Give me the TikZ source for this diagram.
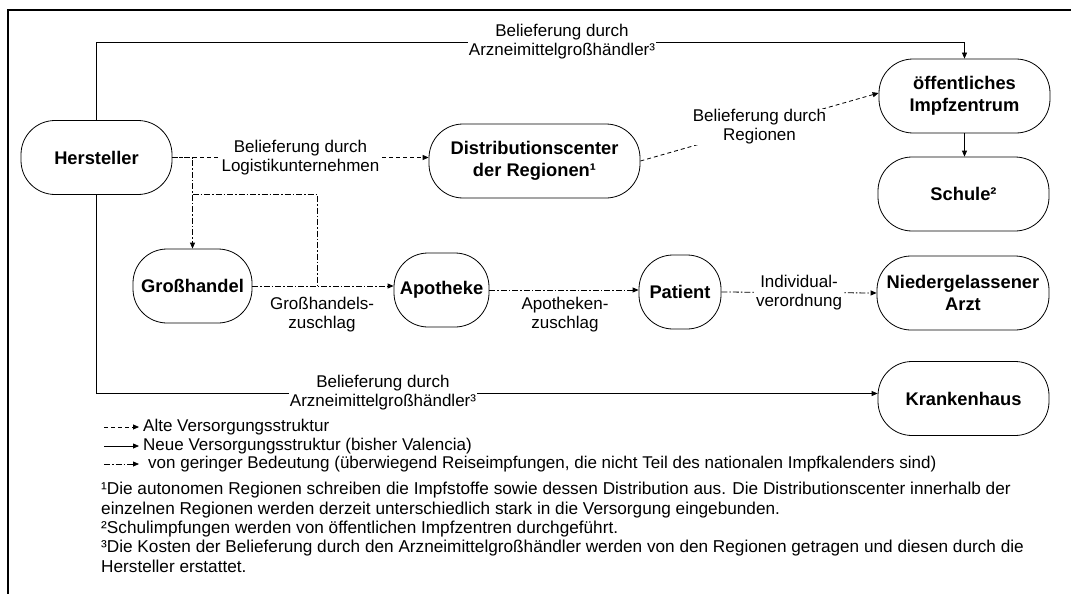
\documentclass[tikz,border=0pt]{standalone}
\usepackage{fontspec}
\setmainfont{Liberation Sans}
\usetikzlibrary{arrows.meta, positioning, calc}
\newcommand{\stellefont}{\fontsize{18.3}{22.5}\selectfont\bfseries}
\newcommand{\lblfont}{\fontsize{17}{19}\selectfont}
\newcommand{\fnfont}{\fontsize{17.2}{19.4}\selectfont}
\tikzset{
  stelle/.style={
    rectangle, rounded corners=34pt, draw, line width=0.8pt,
    align=center, font=\stellefont, inner sep=0pt, minimum height=74pt
  },
  neu/.style={-{Triangle[length=6pt, width=5pt]}, line width=0.8pt},
  alt/.style={neu, dash pattern=on 4pt off 3pt},
  gering/.style={neu, dash pattern=on 6pt off 2pt on 1.5pt off 2pt},
  lbl/.style={font=\lblfont, fill=white, inner sep=1pt, align=center},
  legtext/.style={font=\lblfont, inner sep=0pt, anchor=west},
  fn/.style={font=\fnfont, inner sep=0pt, align=left, anchor=north west},
}

\begin{document}
\begin{tikzpicture}[x=1pt, y=-1pt]

  \useasboundingbox (0,0) rectangle (1071,594);
  \draw[line width=2pt] (7.5,594) -- (7.5,10) -- (1071,10);

  % Stellen der Versorgung
  \node[stelle, minimum width=151pt] (hst) at (96.5,157.5) {Hersteller};
  \node[stelle, minimum width=211pt] (dist) at (534.5,161) {Distributionscenter\\der Regionen¹};
  \node[stelle, minimum width=171pt] (impf) at (964.5,96) {öffentliches\\Impfzentrum};
  \node[stelle, minimum width=171pt] (schule) at (963.5,194) {Schule²};
  \node[stelle, minimum width=119pt] (gh) at (192.5,286) {Großhandel};
  \node[stelle, minimum width=95pt] (apo) at (441.5,290) {Apotheke};
  \node[stelle, minimum width=82pt] (pat) at (680,292) {Patient};
  \node[stelle, minimum width=172pt] (arzt) at (963,293) {Niedergelassener\\Arzt};
  \node[stelle, minimum width=171pt] (kh) at (963.5,398.5) {Krankenhaus};

  % neue Struktur
  \draw[neu] (hst.north) |- ([yshift=16pt]impf.north) -- (impf.north);
  \node[lbl] (oben) at (562,42) {Belieferung durch\\Arzneimittelgroßhändler³};
  \draw[neu] (hst.south) |- ([yshift=5pt]kh.west);
  \node[lbl] (unten) at (383,393) {Belieferung durch\\Arzneimittelgroßhändler³};
  \draw[neu] (impf.south) -- (impf.south |- schule.north);

  % alte Struktur
  \draw[alt] (hst.east) -- (hst.east -| dist.west)
    node[lbl, midway] {Belieferung durch\\Logistikunternehmen};
  \draw[alt] (dist.east) -- ([yshift=3pt]impf.west)
    node[lbl, midway] {Belieferung durch\\Regionen};

  % geringe Bedeutung
  \coordinate (abzw) at (192.5,194);
  \coordinate (einm) at (317,286);
  \draw[gering] (hst.east) -| (gh.north);
  \draw[gering, -] (abzw) -| (einm);
  \draw[gering] (gh.east) -- (gh.east -| apo.west);
  \node[lbl, fill=none] (ghz) at (322,315) {Großhandels-\\zuschlag};
  \draw[gering] (apo.east) -- (apo.east -| pat.west);
  \node[lbl, fill=none] (apz) at (565,315) {Apotheken-\\zuschlag};
  \draw[gering] (pat.east) -- (arzt.west)
    node[lbl, midway] {Individual-\\verordnung};

  % Legende
  \node[legtext] (leg1) at (143,427) {Alte Versorgungsstruktur};
  \node[legtext] (leg2) at (143,446) {Neue Versorgungsstruktur (bisher Valencia)};
  \node[legtext] (leg3) at (148,464) {von geringer Bedeutung (überwiegend Reiseimpfungen, die nicht Teil des nationalen Impfkalenders sind)};
  \draw[alt] ([xshift=-39pt]leg1.west) -- ([xshift=-4pt]leg1.west);
  \draw[neu] ([xshift=-39pt]leg2.west) -- ([xshift=-4pt]leg2.west);
  \draw[gering] ([xshift=-44pt]leg3.west) -- ([xshift=-9pt]leg3.west);

  % Fussnoten
  \node[fn] (fuss) at (101,482)
    {¹Die autonomen Regionen schreiben die Impfstoffe sowie dessen Distribution aus. Die Distributionscenter innerhalb der\\
     einzelnen Regionen werden derzeit unterschiedlich stark in die Versorgung eingebunden.\\
     ²Schulimpfungen werden von öffentlichen Impfzentren durchgeführt.\\
     ³Die Kosten der Belieferung durch den Arzneimittelgroßhändler werden von den Regionen getragen und diesen durch die\\
     Hersteller erstattet.};

\end{tikzpicture}
\end{document}
